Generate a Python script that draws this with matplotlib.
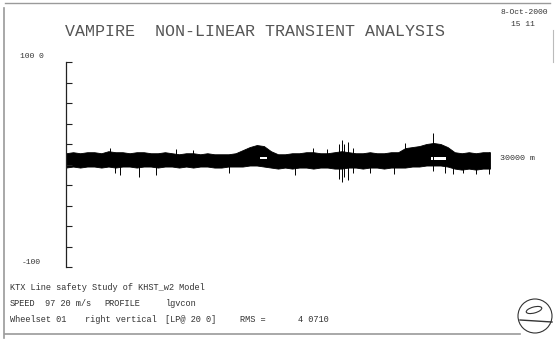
import numpy as np
import matplotlib.pyplot as plt
from matplotlib.patches import Circle, Ellipse

# distance along track (m) and signal envelope
dist = np.arange(0, 30001, 500)
upper = [11, 12, 11, 12, 12, 11, 13, 12, 12, 11, 12, 12, 11, 11, 12, 11,
         10, 11, 11, 10, 11, 10, 10, 10, 11, 14, 17, 19, 18, 13, 10, 10,
         11, 11, 12, 12, 11, 11, 12, 13, 12, 11, 11, 12, 11, 11, 12, 12,
         16, 17, 18, 20, 21, 20, 17, 12, 11, 12, 11, 12, 12]
lower = [-3, -2, -3, -2, -2, -3, -2, -3, -2, -2, -3, -2, -2, -3, -2, -2,
         -3, -2, -3, -2, -2, -3, -3, -2, -2, -2, -1, -1, -2, -3, -4, -3,
         -4, -3, -3, -4, -3, -3, -4, -4, -3, -3, -4, -3, -3, -4, -3, -3,
         -3, -2, -2, -1, -1, -1, -2, -4, -5, -4, -5, -4, -4]

# isolated spikes: position, min, max
spike_x = [3100, 3500, 3800, 5200, 6400, 7800, 9000, 11500, 16200, 17500,
           18500, 19300, 19500, 19700, 19950, 20300, 21500, 23200, 24000,
           25965, 26800, 27400, 28100, 29000, 29950]
spike_lo = [2, -8, -10, -12, -10, 2, 2, -8, -10, 3,
            3, -14, -17, -12, -15, -8, -8, -9, 2,
            -6, -8, -9, -8, -9, -9]
spike_hi = [16, 5, 3, 2, 2, 15, 14, 2, 3, 16,
            15, 20, 24, 20, 22, 16, 3, 3, 21,
            31, 2, 2, 3, 3, 12]

# white notches under the two humps
gap_x0 = [13700, 25800]
gap_x1 = [14200, 26900]
gap_lo = [5.0, 4.8]
gap_hi = [7.0, 7.2]

yticks = np.arange(-100, 101, 20)

fig = plt.figure(figsize=(5.55, 3.41), dpi=100)
fig.patch.set_facecolor('white')

ax = fig.add_axes([66 / 555, 1 - 267 / 341, 424 / 555, 205 / 341])
ax.fill_between(dist, lower, upper, color='black', lw=0.6)
ax.vlines(spike_x, spike_lo, spike_hi, color='black', lw=0.7)
for x0, x1, lo, hi in zip(gap_x0, gap_x1, gap_lo, gap_hi):
    ax.fill_between([x0, x1], [lo, lo], [hi, hi], color='white', lw=0)
ax.set_xlim(0, 30000)
ax.set_ylim(-100, 100)
for s in ['top', 'right', 'bottom']:
    ax.spines[s].set_visible(False)
ax.spines['left'].set_color('#222222')
ax.spines['left'].set_linewidth(0.9)
ax.set_xticks([])
ax.set_yticks(yticks)
ax.set_yticklabels([])
ax.tick_params(axis='y', direction='in', length=4, width=0.8, color='#222222')
ax.patch.set_alpha(0)

# overlay in pixel coordinates for the page furniture
ov = fig.add_axes([0, 0, 1, 1], zorder=-1)
ov.set_xlim(0, 555)
ov.set_ylim(341, 0)
ov.axis('off')

frame = '#9a9a9a'
ov.plot([4, 4], [8, 338], color=frame, lw=1.2)
ov.plot([5, 550], [3, 3], color=frame, lw=1.0)
ov.plot([5, 520], [334, 334], color=frame, lw=1.2)
ov.plot([553, 553], [30, 62], color='#bbbbbb', lw=0.8)

mono = 'Liberation Mono'
txt = '#333333'
ov.text(65, 32, 'VAMPIRE  NON-LINEAR TRANSIENT ANALYSIS', family=mono,
        fontsize=12, color='#555555', ha='left', va='center')
ov.text(548, 12, '8-Oct-2000', family=mono, fontsize=5.8, color=txt,
        ha='right', va='center')
ov.text(523, 24, '15 11', family=mono, fontsize=5.8, color=txt,
        ha='center', va='center')
ov.text(20, 57, '100 0', family=mono, fontsize=5.8, color=txt,
        ha='left', va='center')
ov.text(22, 263, '-100', family=mono, fontsize=5.8, color=txt,
        ha='left', va='center')
ax.annotate('30000 m', xy=(30000, 6), xytext=(7, 0), textcoords='offset points',
            family=mono, fontsize=6, color=txt, ha='left', va='center')

ov.text(10, 288, 'KTX Line safety Study of KHST_w2 Model', family=mono,
        fontsize=6.2, color=txt, ha='left', va='center')
ov.text(10, 304, 'SPEED', family=mono, fontsize=6.2, color=txt, va='center')
ov.text(45, 304, '97 20 m/s', family=mono, fontsize=6.2, color=txt, va='center')
ov.text(104, 304, 'PROFILE', family=mono, fontsize=6.2, color=txt, va='center')
ov.text(166, 304, 'lgvcon', family=mono, fontsize=6.2, color=txt, va='center')
ov.text(10, 320, 'Wheelset 01', family=mono, fontsize=6.2, color=txt, va='center')
ov.text(85, 320, 'right vertical', family=mono, fontsize=6.2, color=txt, va='center')
ov.text(165, 320, '[LP@ 20 0]', family=mono, fontsize=6.2, color=txt, va='center')
ov.text(240, 320, 'RMS =', family=mono, fontsize=6.2, color=txt, va='center')
ov.text(298, 320, '4 0710', family=mono, fontsize=6.2, color=txt, va='center')

# logo
ov.add_patch(Circle((535, 316), 17, fill=False, ec='#333333', lw=0.8))
ov.add_patch(Ellipse((534, 310), 16, 6, angle=-15, fill=False, ec='#333333', lw=0.8))
ov.plot([520, 552], [320, 322], color='#333333', lw=1.0)

fig.savefig('out.png', dpi=100, facecolor='white')
